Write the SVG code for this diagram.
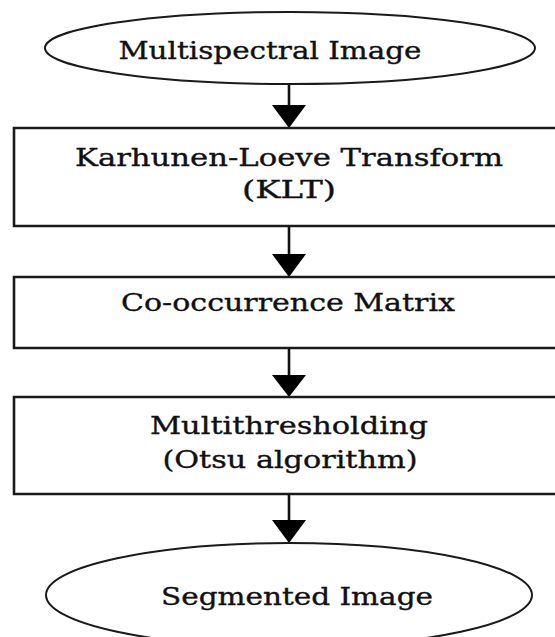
<svg xmlns="http://www.w3.org/2000/svg" width="555" height="637" viewBox="0 0 555 637">
  <style>
    .term { fill: #ffffff; stroke: #1a1a1a; stroke-width: 2; }
    .step { fill: #ffffff; stroke: #1a1a1a; stroke-width: 2.6; }
    .label { font-family: "DejaVu Serif", "Liberation Serif", serif; font-size: 24px; fill: #111111; stroke: #111111; stroke-width: 0.35; text-anchor: middle; }
    .edge { stroke: #111111; stroke-width: 2.6; fill: none; }
    .head { fill: #000000; }
  </style>
  <rect width="555" height="637" fill="#ffffff"/>

  <g id="connectors">
    <line class="edge" x1="289" y1="84" x2="289" y2="106"/>
    <polygon class="head" points="272,105 306,105 289,128"/>
    <line class="edge" x1="289" y1="226" x2="289" y2="255"/>
    <polygon class="head" points="272,254 306,254 289,277"/>
    <line class="edge" x1="289" y1="348" x2="289" y2="376"/>
    <polygon class="head" points="272,375 306,375 289,397"/>
    <line class="edge" x1="289" y1="494" x2="289" y2="521"/>
    <polygon class="head" points="272,520 306,520 289,543"/>
  </g>

  <g id="multispectral-image">
    <ellipse class="term" cx="290" cy="48" rx="245" ry="36"/>
    <text class="label" x="270" y="59" textLength="303" lengthAdjust="spacingAndGlyphs">Multispectral Image</text>
  </g>

  <g id="klt">
    <path class="step" d="M560,128 H14 V226 H560"/>
    <text class="label" x="289" y="166" textLength="428" lengthAdjust="spacingAndGlyphs">Karhunen-Loeve Transform</text>
    <text class="label" x="289" y="198" textLength="94" lengthAdjust="spacingAndGlyphs">(KLT)</text>
  </g>

  <g id="co-occurrence">
    <path class="step" d="M560,277 H14 V348 H560"/>
    <text class="label" x="288" y="311" textLength="334" lengthAdjust="spacingAndGlyphs">Co-occurrence Matrix</text>
  </g>

  <g id="multithresholding">
    <path class="step" d="M560,397 H14 V494 H560"/>
    <text class="label" x="289" y="434" textLength="278" lengthAdjust="spacingAndGlyphs">Multithresholding</text>
    <text class="label" x="290" y="468" textLength="255" lengthAdjust="spacingAndGlyphs">(Otsu algorithm)</text>
  </g>

  <g id="segmented-image">
    <ellipse class="term" cx="289" cy="595" rx="243" ry="52"/>
    <text class="label" x="297" y="605" textLength="272" lengthAdjust="spacingAndGlyphs">Segmented Image</text>
  </g>
</svg>
